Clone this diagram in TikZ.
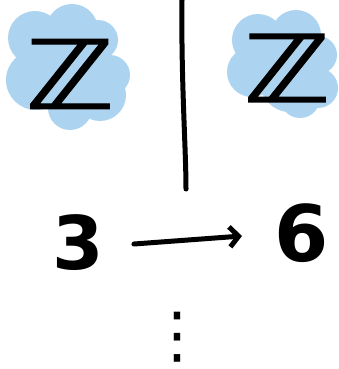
\documentclass[tikz,border=0pt]{standalone}
\usepackage{fontspec}
\setmainfont{DejaVu Sans}
\newfontfamily\zfont[FakeBold=1.5]{DejaVu Sans}
\usetikzlibrary{arrows.meta}
\definecolor{blobblue}{RGB}{172,212,240}
\begin{document}
\begin{tikzpicture}[x=1pt,y=-1pt,
  blob/.style={fill=blobblue,draw=none},
  hand/.style={inner sep=0pt,font=\fontsize{#1}{#1}\selectfont\bfseries},
  zhand/.style={inner sep=0pt,font=\fontsize{#1}{#1}\selectfont\zfont},
  stroke/.style={line width=5pt,line cap=round,line join=round}]
\useasboundingbox (0,0) rectangle (339,369);
% left blob
\foreach \x/\y/\r in {35/38/27, 72/30/26, 98/40/20, 36/80/30, 75/75/35, 100/95/26, 110/75/20, 70/108/22}
  \fill[blob] (\x,\y) circle (\r);
% right blob
\foreach \x/\y/\r in {258/40/26, 296/35/25, 318/55/19, 252/72/25, 290/82/30, 318/88/20, 300/98/20}
  \fill[blob] (\x,\y) circle (\r);
% letters
\node[zhand=95] (zl) at (70,74) {\scalebox{1.25}[1]{ℤ}};
\node[zhand=93] (zr) at (287,68) {\scalebox{1.25}[1]{ℤ}};
% vertical line
\coordinate (vtop) at (182,0);
\coordinate (vbot) at (186,189);
\draw[stroke] (vtop) .. controls (181,80) and (186,150) .. (vbot);
% 3 -> 6
\node[hand=74] (three) at (78,243) {3};
\node[hand=78] (six) at (302,233) {6};
\draw[stroke,-{Straight Barb[length=9pt,width=20pt]}] (three.east) ++(30,1) coordinate (as) -- (242,236) coordinate (ae);
% dots
\node[inner sep=0pt,font=\fontsize{62}{62}\selectfont] (dots) at (177,337) {⋮};
\end{tikzpicture}
\end{document}
